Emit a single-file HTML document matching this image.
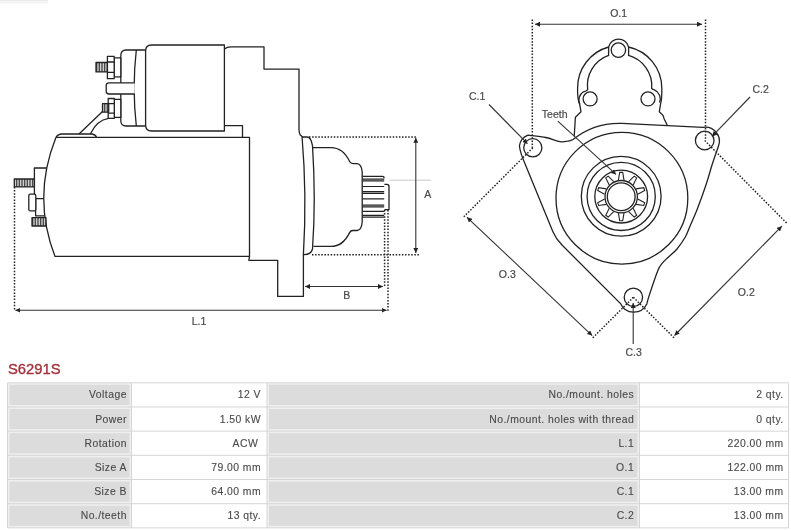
<!DOCTYPE html>
<html><head><meta charset="utf-8">
<style>
html,body{margin:0;padding:0;background:#fff;width:791px;height:530px;overflow:hidden;position:relative}
svg{position:absolute;left:0;top:0;will-change:transform}
.t{font-family:"Liberation Sans",sans-serif;fill:#4a4a4a;stroke:#4a4a4a;stroke-width:0.2px;font-size:10.5px}
</style></head><body>
<svg width="791" height="530" viewBox="0 0 791 530">
<rect x="0" y="0" width="48" height="1.5" fill="#ececec"/><rect x="0" y="2" width="48" height="1.5" fill="#f3f3f3"/><!--artifact-->
<defs>
<pattern id="hatch" width="1.6" height="4" patternUnits="userSpaceOnUse">
<rect width="1.6" height="4" fill="#fff"/><rect width="0.9" height="4" fill="#333"/>
</pattern>
<marker id="ar" viewBox="0 0 10 10" refX="10" refY="5" markerWidth="5" markerHeight="5" orient="auto-start-reverse" markerUnits="userSpaceOnUse">
<path d="M0,0 L10,5 L0,10 z" fill="#222"/>
</marker>
</defs>
<g fill="none" stroke="#222" stroke-width="1.3" stroke-linejoin="round">
<!-- solenoid body -->
<path d="M224.4,45 H151.5 Q145.6,45 145.6,51 V125 Q145.6,131 151.5,131 H224.4 Z"/>
<!-- end cap -->
<path d="M145.6,50 H126 Q120.8,50 120.8,56 V120.5 Q120.8,126 126,126 H145.6"/>
<path d="M136.3,50 Q132,88 136.3,126"/>
<!-- top terminal -->
<rect x="114.2" y="57.9" width="6.6" height="18.9" fill="#fff"/>
<rect x="107.4" y="56.4" width="6.8" height="22.3" fill="#fff"/>
<path d="M107.4,62 H114.2 M107.4,72.3 H114.2"/>
<rect x="96" y="62.5" width="11.4" height="9.4" fill="url(#hatch)"/>
<!-- bar -->
<path d="M134.7,82.8 H109 Q106.2,82.8 106.2,85.6 V91.2 Q106.2,94 109,94 H134.7" fill="#fff"/>
<!-- lower terminal -->
<rect x="114.3" y="99.4" width="6.5" height="18" fill="#fff"/>
<rect x="108.2" y="98.5" width="6.1" height="19.8" fill="#fff"/>
<path d="M108.2,103.7 H114.3 M108.2,113.1 H114.3"/>
<rect x="102.5" y="103.7" width="6.2" height="8.5" fill="url(#hatch)"/>
<!-- wire -->
<path d="M102.5,111.5 L79,134"/>
<path d="M108.5,118.3 Q97,120 90.3,134"/>
<!-- bracket -->
<path d="M56,137.3 Q58,134 62,134 H92 Q95.5,134.5 96.5,137.3"/>
<!-- motor body -->
<path d="M56,137.3 H249.5 V256.4 H55 Q32,197 56,137.3"/>
<!-- step under solenoid -->
<path d="M224.4,125.6 H242.5 V137.3"/>
<!-- housing -->
<path d="M224.4,49 Q227,47 231,46.9 H264 V69.1 H299 V129.7 Q299.5,136 302,136"/>
<path d="M249.5,256.4 L248.8,260.3 H277.7 V296.4 H303.4 V254.6"/>
<!-- flange -->
<path d="M302,136 Q307,195 303.4,254.6 Q311,255 312.5,249 Q316,200 312.5,145.6 Q311,137 307,137 H302"/>
<!-- nose -->
<path d="M312.5,147.7 H331 C340,147.7 346,154 349.6,161.5 Q350.6,163.6 353,163.6 H357 Q361.6,164 362.2,172 V222 Q361.6,230.1 357,230.5 H353 Q350.6,230.5 349.6,232.6 C346,240 340,246.4 331,246.4 H313.5"/>
<!-- pinion -->
<path d="M362.4,176.4 H382.5 Q384.2,176.4 384.2,178.2"/>
<path d="M362.4,179.1 H384.2 M362.4,180.8 H384.2 M362.4,186.5 H384.2 M362.4,191.6 H384.2 M362.4,193.3 H384.2 M362.4,198.9 H384.2 M362.4,205.2 H384.2 M362.4,206.9 H384.2 M362.4,211.4 H384.2 M362.4,215.3 H384.2 M362.4,217.2 H384.2" stroke-width="1.2"/>
<path d="M384.4,184.3 H387 Q389,184.3 389,186.5 V209.6 H384.4"/>
<!-- left end terminals -->
<path d="M47,168 H34.4 V198.6 H43.8 M35.6,198.6 V215.8 H44.8"/>
<rect x="28.8" y="194.2" width="7" height="16.7" rx="1.5" fill="#fff"/>
<rect x="14.3" y="179" width="20.1" height="7.9" fill="url(#hatch)"/>
<rect x="32" y="217.7" width="14" height="8.3" fill="url(#hatch)"/>
</g>
<!-- dimension lines side view -->
<g fill="none" stroke="#222" stroke-width="1.5" stroke-dasharray="1.5,1.6">
<path d="M309,137 H417"/>
<path d="M312,254.7 H419"/>
<path d="M14.5,187 V311"/>
<path d="M384.6,210 V287.5"/>
<path d="M388,210 V311"/>
</g>
<path d="M389.5,180.2 H431" stroke="#c8c8c8" stroke-width="1"/>
<g fill="none" stroke="#333" stroke-width="1.1">
<path d="M415.8,137.8 V253" marker-start="url(#ar)" marker-end="url(#ar)"/>
<path d="M305,286.5 H383" marker-start="url(#ar)" marker-end="url(#ar)"/>
<path d="M15.4,310.3 H386.6" marker-start="url(#ar)" marker-end="url(#ar)"/>
</g>

<!-- END VIEW -->
<g fill="none" stroke="#222" stroke-width="1.3">
<path d="M574.2,136.3 L575.4,117.3 L581,111.8 L579.7,104.4 Q577.3,99 577.6,88 A42.3,42.3 0 0 1 608.6,47 A10.3,10.3 0 0 1 628.6,47 A42.3,42.3 0 0 1 661.8,88 Q662,99 660.5,104.4 L659.3,111.8 L663,115.4 L664.2,119 L667.3,125.2"/>
<path d="M608.6,47 V55.4 A31.8,31.8 0 0 0 587.7,89.7 Q586.5,91.3 583.4,91.8 A9.6,9.6 0 0 0 579.9,104.2"/>
<path d="M628.6,47 V55.4 A31.8,31.8 0 0 1 651.7,88.5 Q652.8,89.7 654.4,89.9 A9.6,9.6 0 0 1 659.5,102.5"/>
<circle cx="618.4" cy="50.1" r="7.2"/>
<circle cx="590.1" cy="98.9" r="7"/>
<circle cx="648" cy="98.9" r="7"/>
<path d="M528,135.2 C531.0,135.6 540.5,136.4 545.8,137.5 C551.1,138.6 556.4,141.0 560.0,141.6 C563.6,142.2 565.3,141.5 567.5,141.2 C569.7,140.8 572.1,139.8 573.0,139.5 A74,74 0 0 1 622,123.4 L703,127.4 A14,14 0 0 1 718.5,146 C717.4,149.2 714.0,158.6 712.0,165.0 C710.0,171.4 708.6,177.1 706.2,184.3 C703.8,191.5 700.3,201.2 697.7,208.0 C695.1,214.8 692.6,220.2 690.5,225.0 C688.4,229.8 687.5,233.0 685.3,237.0 C683.0,241.0 679.8,245.6 677.0,249.0 C674.2,252.4 670.7,254.9 668.3,257.2 C665.9,259.5 664.3,260.6 662.6,262.8 C660.9,265.0 660.1,265.0 657.9,270.4 C655.7,275.8 651.2,289.3 649.4,294.9 C647.5,300.5 647.2,302.5 646.8,304.0 A14.5,14.5 0 0 1 620.5,303.5 L562,245 Q556,239 552.8,231.4 L524.7,162.9 Q520.3,153 519.4,146 A13.7,13.7 0 0 1 528,135.2 Z"/>
<circle cx="532.8" cy="147.8" r="9.1"/>
<circle cx="704.7" cy="140.5" r="9.3"/>
<circle cx="633.4" cy="297.3" r="9.2"/>
<!-- circles -->
<circle cx="621.9" cy="198.2" r="65.9"/>
<circle cx="621.2" cy="196.3" r="39.9"/>
<circle cx="621.2" cy="196.4" r="34.1"/>
<circle cx="621.2" cy="196.6" r="26.4"/>
<circle cx="621.2" cy="196.7" r="16.2"/>
<circle cx="621.2" cy="196.7" r="13.9"/>
</g>
<g id="teeth" fill="none" stroke="#222" stroke-width="1.1"><path d="M624.00,180.10 L622.70,172.40 L619.70,172.40 L618.40,180.10"/><path d="M633.16,184.90 L636.64,177.90 L634.21,176.14 L628.63,181.61"/><path d="M637.76,194.16 L644.68,190.55 L643.75,187.70 L636.03,188.84"/><path d="M636.03,204.36 L643.75,205.50 L644.68,202.65 L637.76,199.04"/><path d="M628.63,211.59 L634.21,217.06 L636.64,215.30 L633.16,208.30"/><path d="M618.40,213.10 L619.70,220.80 L622.70,220.80 L624.00,213.10"/><path d="M609.24,208.30 L605.76,215.30 L608.19,217.06 L613.77,211.59"/><path d="M604.64,199.04 L597.72,202.65 L598.65,205.50 L606.37,204.36"/><path d="M606.37,188.84 L598.65,187.70 L597.72,190.55 L604.64,194.16"/><path d="M613.77,181.61 L608.19,176.14 L605.76,177.90 L609.24,184.90"/></g>
<!-- end view dims -->
<g fill="none" stroke="#222" stroke-width="1.5" stroke-dasharray="1.5,1.6">
<path d="M532.3,19.5 V147.8"/>
<path d="M705.5,19.5 V140.5"/>
<path d="M532.8,147.8 L463.3,217.3"/>
<path d="M704.7,140.5 L786.9,223.3"/>
<path d="M633.4,297.3 L592.5,338"/>
<path d="M633.4,297.3 L674.3,338"/>
</g>
<g fill="none" stroke="#333" stroke-width="1.1">
<path d="M535,24.2 H702" marker-start="url(#ar)" marker-end="url(#ar)"/>
<path d="M467,217.3 L592.2,335.6" marker-start="url(#ar)" marker-end="url(#ar)"/>
<path d="M674.5,335.5 L781.8,226.2" marker-start="url(#ar)" marker-end="url(#ar)"/>
<path d="M489,104.5 L527.5,143.7" marker-end="url(#ar)"/>
<path d="M750,97 L712,136.4" marker-end="url(#ar)"/>
<path d="M557.8,121.2 L616,174.4" marker-end="url(#ar)"/>
<path d="M633.2,344 V303" marker-end="url(#ar)"/>
</g>

<text class="t" x="427.7" y="198.1" text-anchor="middle">A</text>
<text class="t" x="346.8" y="299.1" text-anchor="middle">B</text>
<text class="t" x="199.0" y="324.6" text-anchor="middle">L.1</text>
<text class="t" x="618.6" y="16.7" text-anchor="middle">O.1</text>
<text class="t" x="477.2" y="99.9" text-anchor="middle">C.1</text>
<text class="t" x="760.7" y="92.8" text-anchor="middle">C.2</text>
<text class="t" x="554.7" y="117.9" text-anchor="middle">Teeth</text>
<text class="t" x="507.3" y="278.4" text-anchor="middle">O.3</text>
<text class="t" x="746.3" y="296.0" text-anchor="middle">O.2</text>
<text class="t" x="633.6" y="356.0" text-anchor="middle">C.3</text>
<!-- TABLE -->
<g id="tbl"><rect x="7.50" y="382.80" width="124.00" height="24.18" fill="#efefef"/><rect x="9.50" y="384.80" width="120.00" height="20.18" fill="#dcdcdc"/><rect x="267.00" y="382.80" width="372.50" height="24.18" fill="#efefef"/><rect x="269.00" y="384.80" width="368.50" height="20.18" fill="#dcdcdc"/><rect x="7.50" y="406.98" width="124.00" height="24.18" fill="#efefef"/><rect x="9.50" y="408.98" width="120.00" height="20.18" fill="#dcdcdc"/><rect x="267.00" y="406.98" width="372.50" height="24.18" fill="#efefef"/><rect x="269.00" y="408.98" width="368.50" height="20.18" fill="#dcdcdc"/><rect x="7.50" y="431.16" width="124.00" height="24.18" fill="#efefef"/><rect x="9.50" y="433.16" width="120.00" height="20.18" fill="#dcdcdc"/><rect x="267.00" y="431.16" width="372.50" height="24.18" fill="#efefef"/><rect x="269.00" y="433.16" width="368.50" height="20.18" fill="#dcdcdc"/><rect x="7.50" y="455.34" width="124.00" height="24.18" fill="#efefef"/><rect x="9.50" y="457.34" width="120.00" height="20.18" fill="#dcdcdc"/><rect x="267.00" y="455.34" width="372.50" height="24.18" fill="#efefef"/><rect x="269.00" y="457.34" width="368.50" height="20.18" fill="#dcdcdc"/><rect x="7.50" y="479.52" width="124.00" height="24.18" fill="#efefef"/><rect x="9.50" y="481.52" width="120.00" height="20.18" fill="#dcdcdc"/><rect x="267.00" y="479.52" width="372.50" height="24.18" fill="#efefef"/><rect x="269.00" y="481.52" width="368.50" height="20.18" fill="#dcdcdc"/><rect x="7.50" y="503.70" width="124.00" height="24.18" fill="#efefef"/><rect x="9.50" y="505.70" width="120.00" height="20.18" fill="#dcdcdc"/><rect x="267.00" y="503.70" width="372.50" height="24.18" fill="#efefef"/><rect x="269.00" y="505.70" width="368.50" height="20.18" fill="#dcdcdc"/><path d="M7.50,382.80 H788.50" stroke="#d6d6d6" stroke-width="1"/><path d="M7.50,406.98 H788.50" stroke="#d6d6d6" stroke-width="1"/><path d="M7.50,431.16 H788.50" stroke="#d6d6d6" stroke-width="1"/><path d="M7.50,455.34 H788.50" stroke="#d6d6d6" stroke-width="1"/><path d="M7.50,479.52 H788.50" stroke="#d6d6d6" stroke-width="1"/><path d="M7.50,503.70 H788.50" stroke="#d6d6d6" stroke-width="1"/><path d="M7.50,527.88 H788.50" stroke="#d6d6d6" stroke-width="1"/><path d="M7.50,382.80 V527.88" stroke="#d6d6d6" stroke-width="1"/><path d="M131.50,382.80 V527.88" stroke="#d6d6d6" stroke-width="1"/><path d="M267.00,382.80 V527.88" stroke="#d6d6d6" stroke-width="1"/><path d="M639.50,382.80 V527.88" stroke="#d6d6d6" stroke-width="1"/><path d="M788.50,382.80 V527.88" stroke="#d6d6d6" stroke-width="1"/><text x="126.9" y="398.40" text-anchor="end" font-family="Liberation Sans, sans-serif" font-size="10.4" letter-spacing="0.45" fill="#4a4a4a" stroke="#4a4a4a" stroke-width="0.12">Voltage</text><text x="261.0" y="398.40" text-anchor="end" font-family="Liberation Sans, sans-serif" font-size="10.4" letter-spacing="0.45" fill="#4a4a4a" stroke="#4a4a4a" stroke-width="0.12">12 V</text><text x="634.2" y="398.40" text-anchor="end" font-family="Liberation Sans, sans-serif" font-size="10.4" letter-spacing="0.45" fill="#4a4a4a" stroke="#4a4a4a" stroke-width="0.12">No./mount. holes</text><text x="783.6" y="398.40" text-anchor="end" font-family="Liberation Sans, sans-serif" font-size="10.4" letter-spacing="0.45" fill="#4a4a4a" stroke="#4a4a4a" stroke-width="0.12">2 qty.</text><text x="126.9" y="422.58" text-anchor="end" font-family="Liberation Sans, sans-serif" font-size="10.4" letter-spacing="0.45" fill="#4a4a4a" stroke="#4a4a4a" stroke-width="0.12">Power</text><text x="261.0" y="422.58" text-anchor="end" font-family="Liberation Sans, sans-serif" font-size="10.4" letter-spacing="0.45" fill="#4a4a4a" stroke="#4a4a4a" stroke-width="0.12">1.50 kW</text><text x="634.2" y="422.58" text-anchor="end" font-family="Liberation Sans, sans-serif" font-size="10.4" letter-spacing="0.45" fill="#4a4a4a" stroke="#4a4a4a" stroke-width="0.12">No./mount. holes with thread</text><text x="783.6" y="422.58" text-anchor="end" font-family="Liberation Sans, sans-serif" font-size="10.4" letter-spacing="0.45" fill="#4a4a4a" stroke="#4a4a4a" stroke-width="0.12">0 qty.</text><text x="126.9" y="446.76" text-anchor="end" font-family="Liberation Sans, sans-serif" font-size="10.4" letter-spacing="0.45" fill="#4a4a4a" stroke="#4a4a4a" stroke-width="0.12">Rotation</text><text x="258.2" y="446.76" text-anchor="end" font-family="Liberation Sans, sans-serif" font-size="10.4" letter-spacing="0.45" fill="#4a4a4a" stroke="#4a4a4a" stroke-width="0.12">ACW</text><text x="634.2" y="446.76" text-anchor="end" font-family="Liberation Sans, sans-serif" font-size="10.4" letter-spacing="0.45" fill="#4a4a4a" stroke="#4a4a4a" stroke-width="0.12">L.1</text><text x="783.6" y="446.76" text-anchor="end" font-family="Liberation Sans, sans-serif" font-size="10.4" letter-spacing="0.45" fill="#4a4a4a" stroke="#4a4a4a" stroke-width="0.12">220.00 mm</text><text x="126.9" y="470.94" text-anchor="end" font-family="Liberation Sans, sans-serif" font-size="10.4" letter-spacing="0.45" fill="#4a4a4a" stroke="#4a4a4a" stroke-width="0.12">Size A</text><text x="261.0" y="470.94" text-anchor="end" font-family="Liberation Sans, sans-serif" font-size="10.4" letter-spacing="0.45" fill="#4a4a4a" stroke="#4a4a4a" stroke-width="0.12">79.00 mm</text><text x="634.2" y="470.94" text-anchor="end" font-family="Liberation Sans, sans-serif" font-size="10.4" letter-spacing="0.45" fill="#4a4a4a" stroke="#4a4a4a" stroke-width="0.12">O.1</text><text x="783.6" y="470.94" text-anchor="end" font-family="Liberation Sans, sans-serif" font-size="10.4" letter-spacing="0.45" fill="#4a4a4a" stroke="#4a4a4a" stroke-width="0.12">122.00 mm</text><text x="126.9" y="495.12" text-anchor="end" font-family="Liberation Sans, sans-serif" font-size="10.4" letter-spacing="0.45" fill="#4a4a4a" stroke="#4a4a4a" stroke-width="0.12">Size B</text><text x="261.0" y="495.12" text-anchor="end" font-family="Liberation Sans, sans-serif" font-size="10.4" letter-spacing="0.45" fill="#4a4a4a" stroke="#4a4a4a" stroke-width="0.12">64.00 mm</text><text x="634.2" y="495.12" text-anchor="end" font-family="Liberation Sans, sans-serif" font-size="10.4" letter-spacing="0.45" fill="#4a4a4a" stroke="#4a4a4a" stroke-width="0.12">C.1</text><text x="783.6" y="495.12" text-anchor="end" font-family="Liberation Sans, sans-serif" font-size="10.4" letter-spacing="0.45" fill="#4a4a4a" stroke="#4a4a4a" stroke-width="0.12">13.00 mm</text><text x="126.9" y="519.30" text-anchor="end" font-family="Liberation Sans, sans-serif" font-size="10.4" letter-spacing="0.45" fill="#4a4a4a" stroke="#4a4a4a" stroke-width="0.12">No./teeth</text><text x="261.0" y="519.30" text-anchor="end" font-family="Liberation Sans, sans-serif" font-size="10.4" letter-spacing="0.45" fill="#4a4a4a" stroke="#4a4a4a" stroke-width="0.12">13 qty.</text><text x="634.2" y="519.30" text-anchor="end" font-family="Liberation Sans, sans-serif" font-size="10.4" letter-spacing="0.45" fill="#4a4a4a" stroke="#4a4a4a" stroke-width="0.12">C.2</text><text x="783.6" y="519.30" text-anchor="end" font-family="Liberation Sans, sans-serif" font-size="10.4" letter-spacing="0.45" fill="#4a4a4a" stroke="#4a4a4a" stroke-width="0.12">13.00 mm</text></g>
<text x="8" y="374" font-family="Liberation Sans, sans-serif" font-size="14.8" fill="#a0333b" stroke="#a0333b" stroke-width="0.35">S6291S</text>
</svg>
</body></html>
